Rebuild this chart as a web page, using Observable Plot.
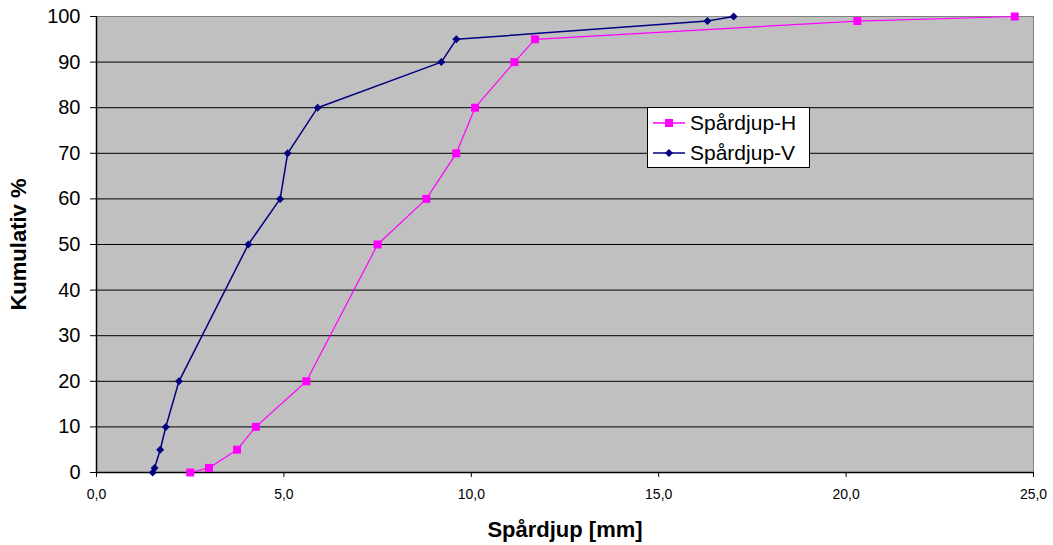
<!DOCTYPE html>
<html>
<head>
<meta charset="utf-8">
<script src="https://cdn.jsdelivr.net/npm/d3@7"></script>
<script src="https://cdn.jsdelivr.net/npm/@observablehq/plot@0.6"></script>
<style>
  html, body { margin: 0; padding: 0; background: #fff; }
  #wrap { position: relative; width: 1053px; height: 545px; font-family: "Liberation Sans", Arial, sans-serif; }
  #legend { position: absolute; left: 647px; top: 107px; width: 163px; height: 61px; background: #fff; border: 1px solid #000; box-sizing: border-box; }
  .row { position: absolute; left: 0; height: 30px; display: flex; align-items: center; font-size: 21px; color: #000; }
  .row svg { margin-left: 5px; margin-right: 5px; }
</style>
</head>
<body>
<div id="wrap"></div>
<script>
const percent = [0, 1, 5, 10, 20, 50, 60, 70, 80, 90, 95, 99, 100];
const depthH = [2.5, 3.0, 3.75, 4.25, 5.6, 7.5, 8.8, 9.6, 10.1, 11.15, 11.7, 20.3, 24.5];
const depthV = [1.5, 1.55, 1.7, 1.85, 2.2, 4.05, 4.9, 5.1, 5.9, 9.2, 9.6, 16.3, 17.0];
const seriesNames = ["Spårdjup-H", "Spårdjup-V"];
const xTicks = [0, 5, 10, 15, 20, 25];
const yTicks = [0, 10, 20, 30, 40, 50, 60, 70, 80, 90, 100];
const colors = {"Spårdjup-H": "#FF00FF", "Spårdjup-V": "#000080"};

const dataH = percent.map((p, i) => ({x: depthH[i], y: p, s: seriesNames[0]}));
const dataV = percent.map((p, i) => ({x: depthV[i], y: p, s: seriesNames[1]}));

const fmt = d => d.toFixed(1).replace(".", ",");

const chart = Plot.plot({
  width: 1053,
  height: 545,
  marginLeft: 96,
  marginRight: 20,
  marginTop: 16,
  marginBottom: 73,
  style: {fontFamily: "'Liberation Sans', Arial, sans-serif", background: "transparent"},
  x: {domain: [0, 25]},
  y: {domain: [0, 100]},
  marks: [
    Plot.frame({fill: "#C0C0C0", stroke: "#808080"}),
    Plot.ruleY(yTicks.filter(d => d > 0 && d < 100), {stroke: "#000", strokeWidth: 1}),
    Plot.ruleY([0], {stroke: "#000", strokeWidth: 1.5}),
    Plot.ruleX([0], {stroke: "#000", strokeWidth: 1.5}),
    Plot.axisY({ticks: yTicks, tickSize: 6, tickPadding: 10, fontSize: 20, label: "Kumulativ %", labelAnchor: "center", labelArrow: "none", labelOffset: 86}),
    Plot.axisX({ticks: xTicks, tickSize: 5, tickPadding: 12, fontSize: 14, tickFormat: fmt, label: "Spårdjup [mm]", labelAnchor: "center", labelArrow: "none", labelOffset: 64}),
    Plot.line(dataH, {x: "x", y: "y", stroke: colors[seriesNames[0]], strokeWidth: 1.2}),
    Plot.line(dataV, {x: "x", y: "y", stroke: colors[seriesNames[1]], strokeWidth: 1.5}),
    Plot.dot(dataH, {x: "x", y: "y", symbol: "square", r: 4.5, fill: colors[seriesNames[0]], stroke: "none"}),
    Plot.dot(dataV, {x: "x", y: "y", symbol: "diamond2", r: 3.6, fill: colors[seriesNames[1]], stroke: "none"})
  ]
});
d3.select(chart).selectAll("g[aria-label='y-axis label'] text, g[aria-label='x-axis label'] text")
  .style("font-weight", "bold").style("font-size", "22px");

const wrap = document.getElementById("wrap");
wrap.appendChild(chart);

const legend = document.createElement("div");
legend.id = "legend";
seriesNames.forEach((name, i) => {
  const row = document.createElement("div");
  row.className = "row";
  row.style.top = (i * 30) + "px";
  const c = colors[name];
  const marker = i === 0
    ? `<rect x="12" y="3" width="8" height="8" fill="${c}"/>`
    : `<path d="M16,3 L20,7 L16,11 L12,7 Z" fill="${c}"/>`;
  row.innerHTML = `<svg width="32" height="14"><line x1="0" y1="7" x2="32" y2="7" stroke="${c}" stroke-width="1.5"/>${marker}</svg><span>${name}</span>`;
  legend.appendChild(row);
});
wrap.appendChild(legend);
</script>
</body>
</html>
